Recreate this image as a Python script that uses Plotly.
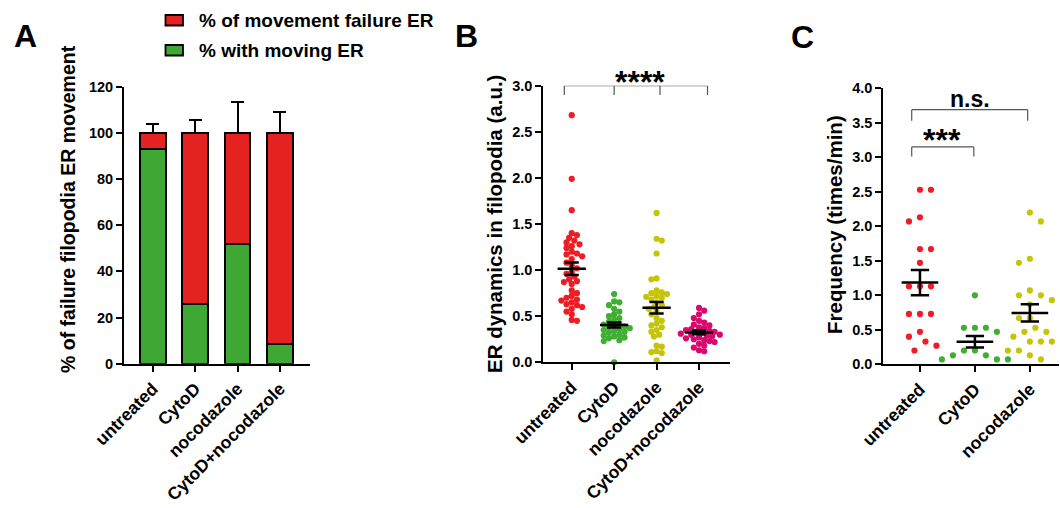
import numpy as np
import plotly.graph_objects as go

W, H = 1060, 508
FONT = "Liberation Sans"

# ---------------- data ----------------
# Panel A (stacked %)
a_categories = ["untreated", "CytoD", "nocodazole", "CytoD+nocodazole"]
a_moving = [93, 26, 52, 8.5]
a_failure = [7, 74, 48, 91.5]
a_err = [4, 5.5, 13.5, 9]
a_legend = ["% of movement failure ER", "% with moving ER"]
a_yticks = [0, 20, 40, 60, 80, 100, 120]

# Panel B (ER dynamics, a.u.)
b_categories = ["untreated", "CytoD", "nocodazole", "CytoD+nocodazole"]
b_untreated = [2.68, 1.99, 1.65, 1.40, 1.38, 1.35, 1.32, 1.30, 1.28, 1.26, 1.24, 1.20,
               1.18, 1.17, 1.15, 1.12, 1.08, 1.05, 1.02, 0.98, 0.96, 0.93, 0.90, 0.88,
               0.87, 0.85, 0.78, 0.75, 0.72, 0.70, 0.68, 0.67, 0.65, 0.63, 0.62, 0.60,
               0.58, 0.55, 0.52, 0.46, 0.45]
b_cytod = [0.74, 0.66, 0.65, 0.62, 0.58, 0.55, 0.52, 0.50, 0.48, 0.46, 0.44, 0.42,
           0.41, 0.40, 0.39, 0.38, 0.37, 0.36, 0.35, 0.34, 0.33, 0.32, 0.30, 0.29,
           0.28, 0.27, 0.26, 0.24, 0.23, 0.0]
b_nocodazole = [1.62, 1.34, 1.32, 1.18, 0.91, 0.90, 0.78, 0.76, 0.75, 0.74, 0.72, 0.71,
                0.70, 0.68, 0.65, 0.62, 0.60, 0.58, 0.55, 0.52, 0.48, 0.45, 0.42, 0.40,
                0.38, 0.35, 0.33, 0.30, 0.28, 0.18, 0.17, 0.12, 0.11, 0.10, 0.02]
b_combo = [0.59, 0.56, 0.52, 0.48, 0.45, 0.43, 0.41, 0.40, 0.38, 0.37, 0.36, 0.35,
           0.34, 0.33, 0.33, 0.32, 0.31, 0.30, 0.30, 0.29, 0.28, 0.27, 0.26, 0.25,
           0.24, 0.23, 0.22, 0.20, 0.18, 0.16, 0.13, 0.12]
b_yticks = [0.0, 0.5, 1.0, 1.5, 2.0, 2.5, 3.0]
b_sig = "****"

# Panel C (frequency, times/min)
c_categories = ["untreated", "CytoD", "nocodazole"]
c_untreated = [2.53, 2.53, 2.13, 2.07, 1.67, 1.67, 1.47, 1.13, 1.13, 1.13, 0.73, 0.73,
               0.73, 0.47, 0.40, 0.33, 0.27, 0.20]
c_cytod = [1.00, 0.53, 0.53, 0.53, 0.47, 0.20, 0.20, 0.13, 0.13, 0.07, 0.07, 0.07]
c_nocodazole = [2.20, 2.07, 1.53, 1.47, 1.07, 1.00, 1.00, 0.93, 0.87, 0.67, 0.67, 0.53,
                0.47, 0.47, 0.40, 0.33, 0.33, 0.33, 0.20, 0.20, 0.20, 0.13, 0.07]
c_yticks = [0.0, 0.5, 1.0, 1.5, 2.0, 2.5, 3.0, 3.5, 4.0]
c_sig = ["***", "n.s."]

# colours
RED_A, GREEN_A = "#E42320", "#3FA835"
RED, GREEN, YELLOW, MAGENTA = "#EC1D24", "#40AE32", "#C6C408", "#D60A6F"
BRACKET = "#555555"

# ---------------- layout geometry (pixels) ----------------
A_X = (124, 310); A_Y = (363.7, 86.7); A_RANGE = (-0.68, 3.71)
B_X = (543.3, 730); B_Y = (362.3, 85.7); B_RANGE = (-0.67, 3.73)
C_X = (883.3, 1059); C_Y = (364.3, 88.3); C_RANGE = (-0.667, 2.53)


def xdom(px):
    return [px[0] / W, px[1] / W]


def ydom(py):
    return [1 - py[0] / H, 1 - py[1] / H]


def beeswarm(values, px_per_x, px_per_y, d):
    vals = np.asarray(values, dtype=float)
    order = np.argsort(-vals, kind="stable")
    placed = []
    offs = np.zeros(len(vals))
    step = d / 2.0
    flip = 1
    for i in order:
        y = vals[i] * px_per_y
        cands = [0.0]
        for m in range(1, 80):
            cands += [flip * m * step, -flip * m * step]
        for c in cands:
            if all((c - qx) ** 2 + (y - qy) ** 2 >= d * d - 1e-6 for qx, qy in placed):
                break
        if c != 0:
            flip = -flip
        placed.append((c, y))
        offs[i] = c / px_per_x
    return offs


fig = go.Figure()

# ---------------- Panel A ----------------
a_idx = list(range(len(a_categories)))
fig.add_trace(go.Bar(x=a_idx, y=a_moving, width=0.6, name=a_legend[1],
                     marker=dict(color=GREEN_A, line=dict(color="black", width=2)),
                     xaxis="x", yaxis="y"))
fig.add_trace(go.Bar(x=a_idx, y=a_failure, width=0.6, name=a_legend[0],
                     marker=dict(color=RED_A, line=dict(color="black", width=2)),
                     error_y=dict(type="data", symmetric=False, array=a_err,
                                  arrayminus=[0] * len(a_err), color="black",
                                  thickness=2, width=6.5),
                     xaxis="x", yaxis="y"))


# ---------------- scatter panels ----------------
def add_dot_panel(groups, colors, xa, ya, xpx, ypx, xrange, yrange, d, msize):
    px_per_x = (xpx[1] - xpx[0]) / (xrange[1] - xrange[0])
    px_per_y = (ypx[0] - ypx[1]) / (yrange[1] - yrange[0])
    for k, (vals, col) in enumerate(zip(groups, colors)):
        offs = beeswarm(vals, px_per_x, px_per_y, d)
        fig.add_trace(go.Scatter(x=k + offs, y=vals, mode="markers", cliponaxis=False,
                                 marker=dict(color=col, size=msize, line=dict(width=0)),
                                 xaxis=xa, yaxis=ya, showlegend=False))
    lx, ly = [], []
    for k, vals in enumerate(groups):
        v = np.asarray(vals, dtype=float)
        m = v.mean()
        se = v.std(ddof=1) / np.sqrt(len(v))
        lx += [k - 1 / 3, k + 1 / 3, None, k - 1 / 6, k + 1 / 6, None,
               k - 1 / 6, k + 1 / 6, None, k, k, None]
        ly += [m, m, None, m + se, m + se, None, m - se, m - se, None, m - se, m + se, None]
    fig.add_trace(go.Scatter(x=lx, y=ly, mode="lines", line=dict(color="black", width=2.5),
                             xaxis=xa, yaxis=ya, showlegend=False, cliponaxis=False))


add_dot_panel([b_untreated, b_cytod, b_nocodazole, b_combo], [RED, GREEN, YELLOW, MAGENTA],
              "x2", "y2", B_X, B_Y, B_RANGE, (0, 3), 5.2, 6.2)
add_dot_panel([c_untreated, c_cytod, c_nocodazole], [RED, GREEN, YELLOW],
              "x3", "y3", C_X, C_Y, C_RANGE, (0, 4), 11, 6.2)

# ---------------- axes ----------------
base_axis = dict(showline=True, linecolor="black", linewidth=2, ticks="outside",
                 ticklen=6, tickwidth=2, tickcolor="black", showgrid=False,
                 zeroline=False, automargin=False, fixedrange=True)
xfont = dict(family=FONT, size=17.5, color="black", weight="bold")
yfont = dict(family=FONT, size=14.5, color="black", weight="bold")

fig.update_layout(
    width=W, height=H, margin=dict(l=0, r=0, t=0, b=0),
    paper_bgcolor="white", plot_bgcolor="white", showlegend=False,
    barmode="stack", bargap=0.4,
    xaxis=dict(base_axis, domain=xdom(A_X), range=list(A_RANGE), anchor="y",
               tickvals=a_idx, ticktext=a_categories, tickangle=-45, tickfont=xfont),
    yaxis=dict(base_axis, domain=ydom(A_Y), range=[0, 120], anchor="x",
               tickvals=a_yticks, tickfont=yfont),
    xaxis2=dict(base_axis, domain=xdom(B_X), range=list(B_RANGE), anchor="y2",
                tickvals=list(range(len(b_categories))), ticktext=b_categories,
                tickangle=-45, tickfont=xfont),
    yaxis2=dict(base_axis, domain=ydom(B_Y), range=[0, 3], anchor="x2",
                tickvals=b_yticks, ticktext=[f"{v:.1f}" for v in b_yticks], tickfont=yfont),
    xaxis3=dict(base_axis, domain=xdom(C_X), range=list(C_RANGE), anchor="y3",
                tickvals=list(range(len(c_categories))), ticktext=c_categories,
                tickangle=-45, tickfont=xfont),
    yaxis3=dict(base_axis, domain=ydom(C_Y), range=[0, 4], anchor="x3",
                tickvals=c_yticks, ticktext=[f"{v:.1f}" for v in c_yticks], tickfont=yfont),
)

# ---------------- brackets ----------------
shapes = []


def bracket(xa, ya, xs, ytop, ydrop):
    shapes.append(dict(type="line", xref=xa, yref=ya, x0=xs[0], x1=xs[-1], y0=ytop, y1=ytop,
                       line=dict(color=BRACKET, width=1.2)))
    for xv in xs:
        shapes.append(dict(type="line", xref=xa, yref=ya, x0=xv, x1=xv, y0=ytop, y1=ydrop,
                           line=dict(color=BRACKET, width=1.2)))


bracket("x2", "y2", [-0.175, 1.0, 2.08, 3.2], 3.0, 2.9)
bracket("x3", "y3", [-0.15, 0.98], 3.15, 3.01)
bracket("x3", "y3", [-0.15, 1.96], 3.69, 3.53)

# legend swatches for panel A (manual)
for (y0, y1), col in zip([(15, 25.5), (45, 55.5)], [RED_A, GREEN_A]):
    shapes.append(dict(type="rect", xref="paper", yref="paper",
                       x0=165.5 / W, x1=183 / W, y0=1 - y1 / H, y1=1 - y0 / H,
                       fillcolor=col, line=dict(color="black", width=1.8)))
fig.update_layout(shapes=shapes)

# ---------------- annotations ----------------
ann = []


def text(x, y, s, size, xref="paper", yref="paper", angle=0, xanchor="center"):
    ann.append(dict(x=x, y=y, xref=xref, yref=yref, text=s, showarrow=False,
                    textangle=angle, xanchor=xanchor, yanchor="middle",
                    font=dict(family=FONT, size=size, color="black", weight="bold")))


def b_paper(xv, yv):
    px = B_X[0] + (xv - B_RANGE[0]) * (B_X[1] - B_X[0]) / (B_RANGE[1] - B_RANGE[0])
    py = B_Y[0] - yv * (B_Y[0] - B_Y[1]) / 3.0
    return px / W, 1 - py / H


# panel letters
text(25 / W, 1 - 36 / H, "A", 32)
text(466 / W, 1 - 36 / H, "B", 32)
text(802 / W, 1 - 37 / H, "C", 32)
# y-axis titles
text(68 / W, 1 - 209 / H, "% of failure filopodia ER movement", 19.5, angle=-90)
text(494 / W, 1 - 224 / H, "ER dynamics in filopodia (a.u.)", 20.5, angle=-90)
text(834 / W, 1 - 225 / H, "Frequency (times/min)", 20.5, angle=-90)
# legend labels
text(197 / W, 1 - 20 / H, a_legend[0], 19, xanchor="left")
text(197 / W, 1 - 50 / H, a_legend[1], 19, xanchor="left")
# significance marks
sx, sy = b_paper(1.61, 3.04)
text(sx, sy, b_sig, 32)
text(0.395, 3.25, c_sig[0], 32, xref="x3", yref="y3")
text(0.91, 3.84, c_sig[1], 23, xref="x3", yref="y3")
fig.update_layout(annotations=ann)

fig.write_html("out.html", config={"displayModeBar": False},
               post_script="document.body.style.margin='0';"
                           "document.body.style.overflow='hidden';")
